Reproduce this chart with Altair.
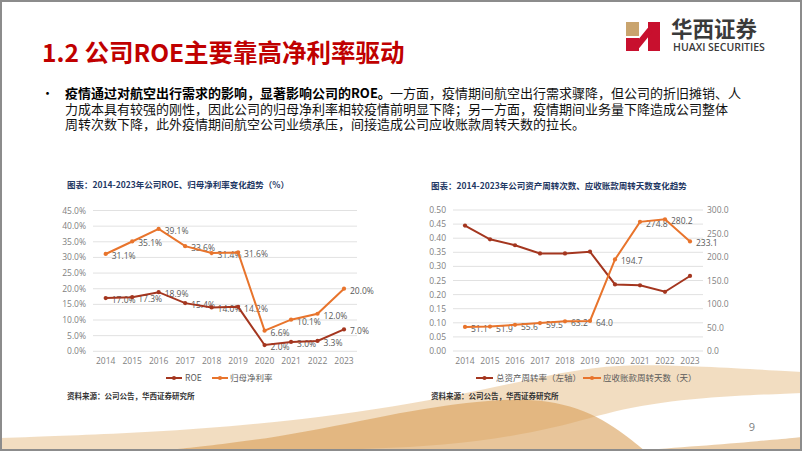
import altair as alt
import pandas as pd

# ---------------- data ----------------
years = [2014, 2015, 2016, 2017, 2018, 2019, 2020, 2021, 2022, 2023]
roe = [17.0, 17.3, 18.9, 15.4, 14.0, 14.2, 2.0, 3.0, 3.3, 7.0]
net_margin = [31.1, 35.1, 39.1, 33.6, 31.4, 31.6, 6.6, 10.1, 12.0, 20.0]
asset_turnover = [0.445, 0.396, 0.375, 0.346, 0.346, 0.352, 0.236, 0.233, 0.210, 0.266]
ar_days = [51.1, 51.9, 55.6, 59.5, 63.2, 64.0, 194.7, 274.8, 280.2, 233.1]
pct_ticks = [0, 5, 10, 15, 20, 25, 30, 35, 40, 45]
turnover_ticks = [0.0, 0.05, 0.10, 0.15, 0.20, 0.25, 0.30, 0.35, 0.40, 0.45, 0.50]
days_ticks = [0, 50, 100, 150, 200, 250, 300]

title_text = "1.2 公司ROE主要靠高净利率驱动"
bullet_bold = "疫情通过对航空出行需求的影响，显著影响公司的ROE。"
bullet_l1 = "一方面，疫情期间航空出行需求骤降，但公司的折旧摊销、人"
bullet_l2 = "力成本具有较强的刚性，因此公司的归母净利率相较疫情前明显下降；另一方面，疫情期间业务量下降造成公司整体"
bullet_l3 = "周转次数下降，此外疫情期间航空公司业绩承压，间接造成公司应收账款周转天数的拉长。"
left_title = "图表：2014-2023年公司ROE、归母净利率变化趋势（%）"
right_title = "图表：2014-2023年公司资产周转次数、应收账款周转天数变化趋势"
source_text = "资料来源：公司公告，华西证券研究所"
left_legend = ["ROE", "归母净利率"]
right_legend = ["总资产周转率（左轴）", "应收账款周转天数（天）"]

# decoration (background wave) control points
wave1_x = [0, 150, 300, 450, 560, 620, 700, 802]
wave1_top = [438, 433, 421, 398, 372, 364, 366, 372]
wave1_bot = [451, 451, 451, 447, 428, 408, 397, 393]
wave2_x = [160, 280, 390, 480, 550, 605, 645]
wave2_top = [451, 438, 414, 400, 398, 418, 451]
wave3_x = [630, 700, 760, 802]
wave3_top = [451, 446, 441, 437]

RED = "#A4361F"
ORANGE = "#E8742C"
GRID = "#D9D9D9"
TICK = "#7F7F7F"
LBL = "#595959"
NAVY = "#1F3864"
FONT = "Noto Sans CJK SC"
NUMFONT = "Open Sans"

W, H = 802, 451

left = pd.DataFrame({
    "year": years, "roe": roe, "npm": net_margin,
    "ylbl": [str(y) for y in years],
    "roe_lbl": [f"{v:.1f}%" for v in roe],
    "npm_lbl": [f"{v:.1f}%" for v in net_margin],
})
right = pd.DataFrame({
    "year": years, "turn": asset_turnover, "days": ar_days,
    "ylbl": [str(y) for y in years],
    "days_lbl": [f"{v:.1f}" for v in ar_days],
})
pct_df = pd.DataFrame({"t": pct_ticks, "lbl": [f"{t:.1f}%" for t in pct_ticks]})
turn_df = pd.DataFrame({"t": turnover_ticks, "lbl": [f"{t:.2f}" for t in turnover_ticks]})
days_df = pd.DataFrame({"t": days_ticks, "lbl": [f"{t:.1f}" for t in days_ticks]})

one = pd.DataFrame({"k": [0]})


def sx_left():
    return alt.Scale(domain=[2014, 2023], range=[105.7, 344.0], nice=False, zero=False)


def sy_left():
    return alt.Scale(domain=[0, 45], range=[351.3, 210.5], nice=False, zero=True)


def sx_right():
    return alt.Scale(domain=[2014, 2023], range=[465.0, 690.0], nice=False, zero=False)


def sy_rl():
    return alt.Scale(domain=[0, 0.5], range=[351.0, 210.0], nice=False, zero=True)


def sy_rr():
    return alt.Scale(domain=[0, 300], range=[351.0, 210.0], nice=False, zero=True)


def px_x():
    return alt.Scale(domain=[0, W], range=[0, W], nice=False, zero=False)


def px_y():
    return alt.Scale(domain=[0, H], range=[0, H], nice=False, zero=False)


def text_at(x, y, s, size, color="#000000", weight="normal", align="left", font=FONT, baseline="middle"):
    return alt.Chart(one).mark_text(
        text=s, fontSize=size, color=color, fontWeight=weight, align=align,
        baseline=baseline, font=font
    ).encode(x=alt.value(x), y=alt.value(y))


layers = []

# ---------------- background wave ----------------
w1 = pd.DataFrame({"x": wave1_x, "top": wave1_top, "bot": wave1_bot})
layers.append(alt.Chart(w1).mark_area(color="#EFD5B2", opacity=0.8, interpolate="basis").encode(
    x=alt.X("x:Q", scale=px_x(), axis=None),
    y=alt.Y("top:Q", scale=px_y(), axis=None), y2="bot:Q"))
w2 = pd.DataFrame({"x": wave2_x, "top": wave2_top, "bot": [451] * len(wave2_x)})
layers.append(alt.Chart(w2).mark_area(color="#D89E57", opacity=0.6, interpolate="basis").encode(
    x=alt.X("x:Q", scale=px_x(), axis=None),
    y=alt.Y("top:Q", scale=px_y(), axis=None), y2="bot:Q"))
w3 = pd.DataFrame({"x": wave3_x, "top": wave3_top, "bot": [451] * len(wave3_x)})
layers.append(alt.Chart(w3).mark_area(color="#DDAE72", opacity=0.6, interpolate="basis").encode(
    x=alt.X("x:Q", scale=px_x(), axis=None),
    y=alt.Y("top:Q", scale=px_y(), axis=None), y2="bot:Q"))

# ---------------- header ----------------
layers.append(text_at(42, 55, title_text, 24.5, "#C00000", "bold"))
layers.append(text_at(41, 94, "•", 13, "#000000"))
layers.append(text_at(65, 94, bullet_bold, 13, "#000000", "bold"))
layers.append(text_at(390, 94, bullet_l1, 13, "#111111"))
layers.append(text_at(65, 109.6, bullet_l2, 13, "#111111"))
layers.append(text_at(65, 125.2, bullet_l3, 13, "#111111"))

# logo
layers.append(alt.Chart(one).mark_rect(color="#C9A46E").encode(
    x=alt.value(626), x2=alt.value(639), y=alt.value(22), y2=alt.value(36)))
layers.append(alt.Chart(one).mark_rect(color="#C8102E").encode(
    x=alt.value(626), x2=alt.value(639), y=alt.value(38), y2=alt.value(51)))
layers.append(alt.Chart(one).mark_rect(color="#C8102E").encode(
    x=alt.value(648), x2=alt.value(660), y=alt.value(22), y2=alt.value(51)))
layers.append(alt.Chart(one).mark_rule(color="#C8102E", strokeWidth=6).encode(
    x=alt.value(637), x2=alt.value(650), y=alt.value(46), y2=alt.value(30)))
layers.append(text_at(671, 31, "华西证券", 21.5, "#3A3A3A", "bold"))
layers.append(text_at(673, 48, "HUAXI SECURITIES", 10.5, "#3A3A3A", 600, font=NUMFONT))

# ---------------- left chart ----------------
layers.append(text_at(67, 185, left_title, 8.5, NAVY, "bold"))
layers.append(alt.Chart(pct_df).mark_rule(color=GRID, strokeWidth=0.8).encode(
    y=alt.Y("t:Q", scale=sy_left(), axis=None), x=alt.value(93), x2=alt.value(357)))
layers.append(alt.Chart(pct_df).mark_text(align="right", baseline="middle", fontSize=8.5,
                                          color=TICK, font=NUMFONT).encode(
    y=alt.Y("t:Q", scale=sy_left(), axis=None), x=alt.value(86), text="lbl:N"))
layers.append(alt.Chart(left).mark_text(align="center", baseline="middle", fontSize=8.5,
                                        color=TICK, font=NUMFONT).encode(
    x=alt.X("year:Q", scale=sx_left(), axis=None), y=alt.value(361), text="ylbl:N"))
for col, lbl in (("roe", "roe_lbl"), ("npm", "npm_lbl")):
    layers.append(alt.Chart(left).mark_text(align="left", baseline="middle", dx=6, dy=2,
                                            fontSize=8.5, color=LBL, font=NUMFONT).encode(
        x=alt.X("year:Q", scale=sx_left(), axis=None),
        y=alt.Y(f"{col}:Q", scale=sy_left(), axis=None), text=f"{lbl}:N"))
for col, c in (("roe", RED), ("npm", ORANGE)):
    layers.append(alt.Chart(left).mark_line(color=c, strokeWidth=2).encode(
        x=alt.X("year:Q", scale=sx_left(), axis=None),
        y=alt.Y(f"{col}:Q", scale=sy_left(), axis=None)))
    layers.append(alt.Chart(left).mark_point(color=c, filled=True, size=18, opacity=1).encode(
        x=alt.X("year:Q", scale=sx_left(), axis=None),
        y=alt.Y(f"{col}:Q", scale=sy_left(), axis=None)))

# left legend
for (x1, x2, tx), c, s in zip([(166, 182, 185), (212, 228, 230)], [RED, ORANGE], left_legend):
    layers.append(alt.Chart(one).mark_rule(color=c, strokeWidth=2).encode(
        x=alt.value(x1), x2=alt.value(x2), y=alt.value(378)))
    layers.append(alt.Chart(one).mark_point(color=c, filled=True, size=18, opacity=1).encode(
        x=alt.value((x1 + x2) / 2), y=alt.value(378)))
    layers.append(text_at(tx, 378, s, 8.5, LBL, font=FONT))
layers.append(text_at(67, 397, source_text, 7.5, "#333333", "bold"))

# ---------------- right chart ----------------
layers.append(text_at(431, 186, right_title, 8.5, NAVY, "bold"))
layers.append(alt.Chart(turn_df).mark_rule(color=GRID, strokeWidth=0.8).encode(
    y=alt.Y("t:Q", scale=sy_rl(), axis=None), x=alt.value(453), x2=alt.value(703)))
layers.append(alt.Chart(turn_df).mark_text(align="right", baseline="middle", fontSize=8.5,
                                           color=TICK, font=NUMFONT).encode(
    y=alt.Y("t:Q", scale=sy_rl(), axis=None), x=alt.value(446), text="lbl:N"))
layers.append(alt.Chart(days_df).mark_text(align="left", baseline="middle", fontSize=8.5,
                                           color=TICK, font=NUMFONT).encode(
    y=alt.Y("t:Q", scale=sy_rr(), axis=None), x=alt.value(707), text="lbl:N"))
layers.append(alt.Chart(right).mark_text(align="center", baseline="middle", fontSize=8.5,
                                         color=TICK, font=NUMFONT).encode(
    x=alt.X("year:Q", scale=sx_right(), axis=None), y=alt.value(361), text="ylbl:N"))
layers.append(alt.Chart(right).mark_text(align="left", baseline="middle", dx=6, dy=2,
                                         fontSize=8.5, color=LBL, font=NUMFONT).encode(
    x=alt.X("year:Q", scale=sx_right(), axis=None),
    y=alt.Y("days:Q", scale=sy_rr(), axis=None), text="days_lbl:N"))
layers.append(alt.Chart(right).mark_line(color=RED, strokeWidth=2).encode(
    x=alt.X("year:Q", scale=sx_right(), axis=None),
    y=alt.Y("turn:Q", scale=sy_rl(), axis=None)))
layers.append(alt.Chart(right).mark_point(color=RED, filled=True, size=18, opacity=1).encode(
    x=alt.X("year:Q", scale=sx_right(), axis=None),
    y=alt.Y("turn:Q", scale=sy_rl(), axis=None)))
layers.append(alt.Chart(right).mark_line(color=ORANGE, strokeWidth=2).encode(
    x=alt.X("year:Q", scale=sx_right(), axis=None),
    y=alt.Y("days:Q", scale=sy_rr(), axis=None)))
layers.append(alt.Chart(right).mark_point(color=ORANGE, filled=True, size=18, opacity=1).encode(
    x=alt.X("year:Q", scale=sx_right(), axis=None),
    y=alt.Y("days:Q", scale=sy_rr(), axis=None)))

for (x1, x2, tx), c, s in zip([(476, 493, 496), (583, 601, 603)], [RED, ORANGE], right_legend):
    layers.append(alt.Chart(one).mark_rule(color=c, strokeWidth=2).encode(
        x=alt.value(x1), x2=alt.value(x2), y=alt.value(378)))
    layers.append(alt.Chart(one).mark_point(color=c, filled=True, size=18, opacity=1).encode(
        x=alt.value((x1 + x2) / 2), y=alt.value(378)))
    layers.append(text_at(tx, 378, s, 8.5, LBL, font=FONT))
layers.append(text_at(431, 397, source_text, 7.5, "#333333", "bold"))

# page number and slide border
layers.append(text_at(752, 428, "9", 11, TICK, font=NUMFONT, align="center"))
layers.append(alt.Chart(one).mark_rect(filled=False, stroke="#8C8C8C", strokeWidth=2).encode(
    x=alt.value(1), x2=alt.value(801), y=alt.value(1), y2=alt.value(450)))

chart = alt.layer(*layers).resolve_scale(x="independent", y="independent").properties(
    width=W, height=H, padding=0, autosize=alt.AutoSizeParams(type="none"),
    background="#FFFFFF"
).configure_view(strokeWidth=0)

chart.save("out.html", embed_options={"renderer": "svg", "actions": False})
